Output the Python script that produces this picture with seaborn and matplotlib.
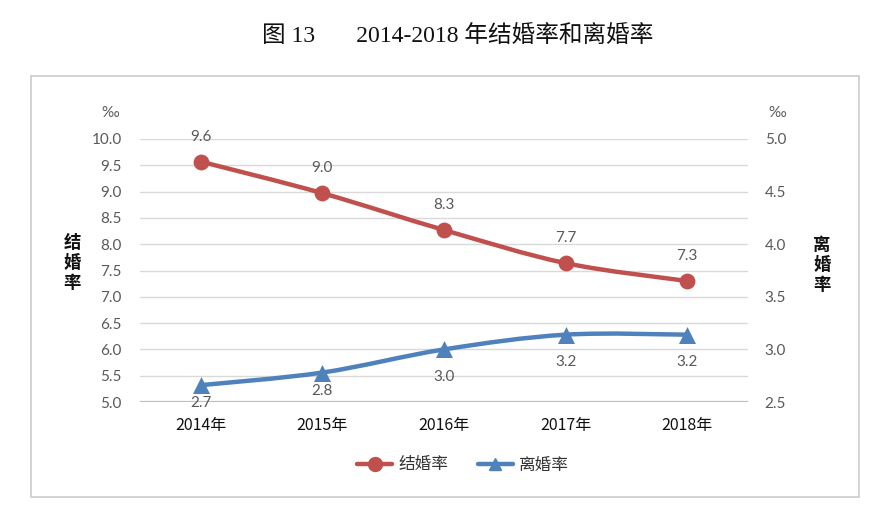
import matplotlib
matplotlib.use("Agg")
import matplotlib.pyplot as plt
import seaborn as sns
import numpy as np
from matplotlib.path import Path
from matplotlib.patches import PathPatch, Rectangle
from matplotlib.lines import Line2D

# ---- data ----
years = ["2014年", "2015年", "2016年", "2017年", "2018年"]
marriage = [9.57, 8.97, 8.27, 7.64, 7.30]
divorce = [2.66, 2.78, 3.00, 3.14, 3.14]
marriage_labels = ["9.6", "9.0", "8.3", "7.7", "7.3"]
divorce_labels = ["2.7", "2.8", "3.0", "3.2", "3.2"]
left_ticks = [5.0, 5.5, 6.0, 6.5, 7.0, 7.5, 8.0, 8.5, 9.0, 9.5, 10.0]
right_ticks = [2.5, 3.0, 3.5, 4.0, 4.5, 5.0]

sns.set_theme(style="white")
CJK = "Noto Sans CJK SC"
NUM = ["Lato", CJK]
plt.rcParams["font.family"] = [CJK, "DejaVu Sans"]

RED = "#C0504D"
BLUE = "#4F81BD"
GREY = "#595959"

fig = plt.figure(figsize=(8.93, 5.24), dpi=100)
fig.patch.set_facecolor("white")

# outer frame
fig.add_artist(Rectangle((31 / 893, 1 - 497 / 524), (859 - 31) / 893, (497 - 76) / 524,
                         transform=fig.transFigure, fill=False, edgecolor="#D0D0D0", lw=1.3))

ax = fig.add_axes([140 / 893, 1 - 402 / 524, (748 - 140) / 893, (402 - 139) / 524])
ax2 = ax.twinx()

x = np.arange(len(years))


def smooth_path(xs, ys):
    pts = np.column_stack([xs, ys]).astype(float)
    n = len(pts)
    verts = [pts[0]]
    codes = [Path.MOVETO]
    for i in range(n - 1):
        p0 = pts[i - 1] if i > 0 else pts[i]
        p1 = pts[i]
        p2 = pts[i + 1]
        p3 = pts[i + 2] if i + 2 < n else pts[i + 1]
        c1 = p1 + (p2 - p0) / 6.0
        c2 = p2 - (p3 - p1) / 6.0
        verts += [c1, c2, p2]
        codes += [Path.CURVE4] * 3
    return Path(verts, codes)


ax.add_patch(PathPatch(smooth_path(x, marriage), fill=False, edgecolor=RED, lw=3.2,
                       capstyle="round", joinstyle="round", zorder=3))
ax2.add_patch(PathPatch(smooth_path(x, divorce), fill=False, edgecolor=BLUE, lw=3.2,
                        capstyle="round", joinstyle="round", zorder=3))

sns.scatterplot(x=x, y=marriage, ax=ax, marker="o", s=130, color=RED, edgecolor=RED,
                linewidth=0, zorder=4, legend=False)
sns.scatterplot(x=x, y=divorce, ax=ax2, marker="^", s=150, color=BLUE, edgecolor=BLUE,
                linewidth=0, zorder=4, legend=False)

ax.set_xlim(-0.5, len(years) - 0.5)
ax.set_ylim(5.0, 10.0)
ax2.set_ylim(2.5, 5.0)

ax.set_yticks(left_ticks)
ax.set_yticklabels([f"{v:.1f}" for v in left_ticks], family=NUM, fontsize=11, color=GREY)
ax2.set_yticks(right_ticks)
ax2.set_yticklabels([f"{v:.1f}" for v in right_ticks], family=NUM, fontsize=11, color=GREY)
ax.set_xticks(x)
ax.set_xticklabels(years, fontsize=11.5, color="#111111")

ax.tick_params(axis="y", length=0, pad=13)
ax2.tick_params(axis="y", length=0, pad=12)
ax.tick_params(axis="x", length=0, pad=11)

ax.yaxis.grid(True, color="#D9D9D9", lw=1.0)
ax.xaxis.grid(False)
ax2.grid(False)
ax.set_axisbelow(True)
for a in (ax, ax2):
    for s in ["top", "left", "right"]:
        a.spines[s].set_visible(False)
    a.spines["bottom"].set_visible(False)
    a.set_facecolor("none")
ax.axhline(5.0, color="#BFBFBF", lw=1.6, zorder=2)

# data labels
for xi, yi, lab in zip(x, marriage, marriage_labels):
    ax.annotate(lab, (xi, yi), xytext=(0, 18), textcoords="offset points",
                ha="center", va="center", fontsize=11, color=GREY, family=NUM)
blue_off = [-12.5, -13.5, -20, -19.5, -19.5]
for xi, yi, lab, off in zip(x, divorce, divorce_labels, blue_off):
    ax2.annotate(lab, (xi, yi), xytext=(0, off), textcoords="offset points",
                 ha="center", va="center", fontsize=11, color=GREY, family=NUM)

# unit marks
fig.text(110 / 893, 1 - 113 / 524, "‰", ha="center", va="center", fontsize=11,
         color=GREY, family=NUM)
fig.text(777 / 893, 1 - 113 / 524, "‰", ha="center", va="center", fontsize=11,
         color=GREY, family=NUM)

# axis titles (stacked vertically)
fig.text(72 / 893, 1 - 263 / 524, "结\n婚\n率", ha="center", va="center", fontsize=12.5,
         fontweight="bold", color="#111111", linespacing=1.15)
fig.text(822 / 893, 1 - 265 / 524, "离\n婚\n率", ha="center", va="center", fontsize=12.5,
         fontweight="bold", color="#111111", linespacing=1.15)

# title
fig.text(458 / 893, 1 - 37 / 524, "图 13       2014-2018 年结婚率和离婚率", ha="center",
         va="center", fontsize=17, color="#111111", family=["Liberation Serif", CJK])

# legend
handles = [Line2D([0], [0], color=RED, lw=3.2, marker="o", markersize=10),
           Line2D([0], [0], color=BLUE, lw=3.2, marker="^", markersize=9)]
fig.legend(handles, ["结婚率", "离婚率"], loc="center", bbox_to_anchor=(463 / 893, 1 - 465 / 524),
           ncol=2, frameon=False, fontsize=12, handlelength=2.1, columnspacing=1.8,
           handletextpad=0.35, labelcolor="#333333")

fig.savefig("out.png", dpi=100, facecolor="white")
